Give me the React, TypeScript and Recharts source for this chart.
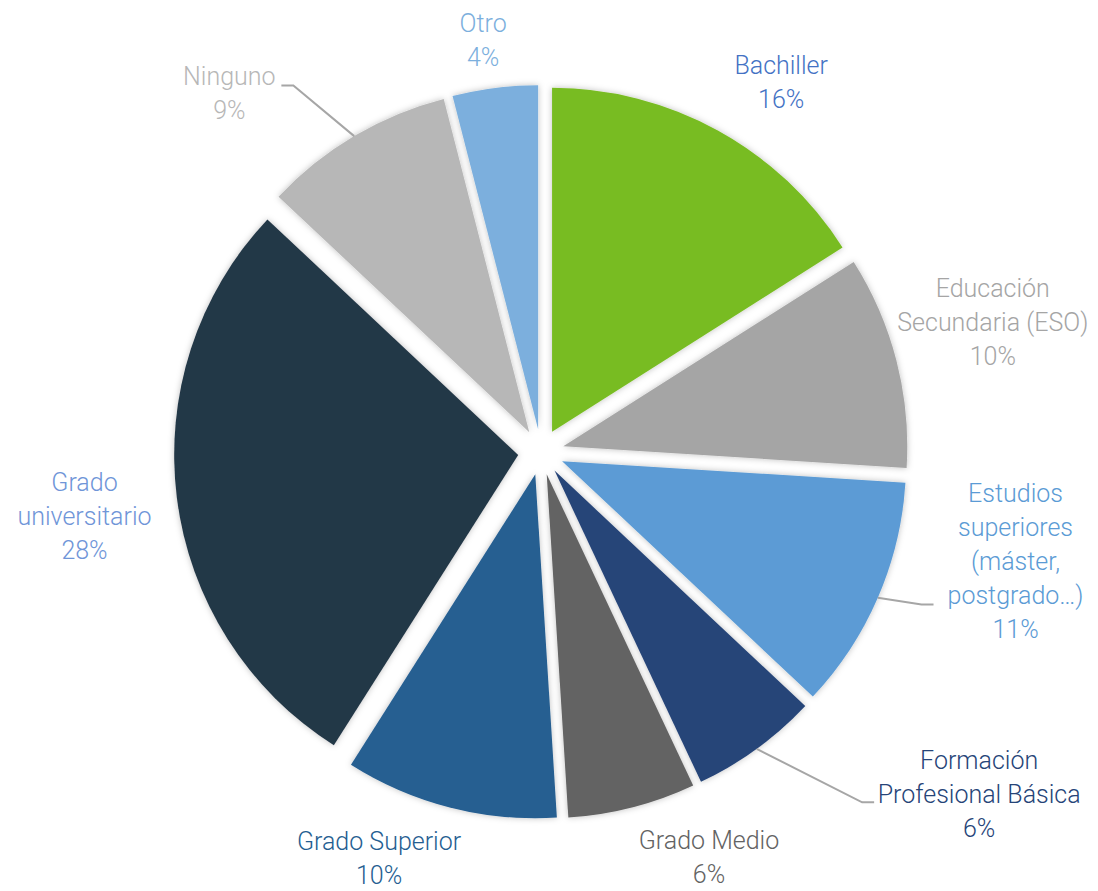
import React from 'react'
import { PieChart, Pie, Cell, Sector } from 'recharts'

const CATEGORIES = [
  'Bachiller',
  'Educación\nSecundaria (ESO)',
  'Estudios\nsuperiores\n(máster,\npostgrado…)',
  'Formación\nProfesional Básica',
  'Grado Medio',
  'Grado Superior',
  'Grado\nuniversitario',
  'Ninguno',
  'Otro',
]

const VALUES = [16, 10, 11, 6, 6, 10, 28, 9, 4]

const SLICE_COLORS = [
  '#78bc21',
  '#a5a5a5',
  '#5b9bd5',
  '#264478',
  '#636363',
  '#255e91',
  '#243746',
  '#b7b7b7',
  '#7cafdd',
]

const LABEL_COLORS = [
  '#4472c4',
  '#a5a5a5',
  '#5b9bd5',
  '#264478',
  '#636363',
  '#255e91',
  '#6f95d8',
  '#b7b7b7',
  '#7cafdd',
]

const data = CATEGORIES.map((name, i) => ({ name, value: VALUES[i] }))

const RADIAN = Math.PI / 180
const EXPLODE = 23
const FONT = 'Roboto, "Open Sans", sans-serif'
const LINE_H = 34

// where each label block sits: compass angle (clockwise from top) and distance from pie centre
const LABEL_LAYOUT = [
  { angle: 33, dist: 441 },
  { angle: 74, dist: 470 },
  { angle: 103, dist: 487 },
  { angle: 128, dist: 556 },
  { angle: 157.5, dist: 439 },
  { angle: 201.7, dist: 438 },
  { angle: 262, dist: 461 },
  { angle: 319, dist: 475 },
  { angle: 352, dist: 416 },
]

// leader lines: end point relative to the label centre, elbow runs 12px towards the slice
const LEADERS: Record<number, { dx: number; dy: number; dir: number }> = {
  2: { dx: -82, dy: 43, dir: -1 },
  3: { dx: -105, dy: 8, dir: -1 },
  7: { dx: 52, dy: -8, dir: 1 },
}

const ExplodedSector = (props: any) => {
  const { cx, cy, midAngle, innerRadius, outerRadius, startAngle, endAngle, fill } = props
  const dx = EXPLODE * Math.cos(-midAngle * RADIAN)
  const dy = EXPLODE * Math.sin(-midAngle * RADIAN)
  return (
    <Sector
      cx={cx + dx}
      cy={cy + dy}
      innerRadius={innerRadius}
      outerRadius={outerRadius}
      startAngle={startAngle}
      endAngle={endAngle}
      fill={fill}
      stroke="none"
      filter="url(#sliceGlow)"
    />
  )
}

const renderLabel = (props: any) => {
  const { cx, cy, midAngle, outerRadius, index, percent } = props
  const lay = LABEL_LAYOUT[index]
  const x = cx + lay.dist * Math.sin(lay.angle * RADIAN)
  const y = cy - lay.dist * Math.cos(lay.angle * RADIAN)
  const pct = percent != null ? Math.round(percent * 100) : VALUES[index]
  const lines = [...CATEGORIES[index].split('\n'), `${pct}%`]
  const top = y - ((lines.length - 1) * LINE_H) / 2
  const leader = LEADERS[index]
  let path = null
  if (leader) {
    const ex = cx + (outerRadius + EXPLODE) * Math.cos(-midAngle * RADIAN)
    const ey = cy + (outerRadius + EXPLODE) * Math.sin(-midAngle * RADIAN)
    const lx = x + leader.dx
    const ly = y + leader.dy
    const bx = lx + leader.dir * 12
    path = (
      <path
        d={`M${ex},${ey}L${bx},${ly}L${lx},${ly}`}
        stroke="#a6a6a6"
        strokeWidth={2}
        fill="none"
      />
    )
  }
  return (
    <g key={`label-${index}`}>
      {path}
      <text
        x={x}
        y={top}
        fill={LABEL_COLORS[index]}
        fontFamily={FONT}
        fontWeight={300}
        fontSize={25}
        textAnchor="middle"
      >
        {lines.map((line, i) => (
          <tspan key={i} x={x} y={top + i * LINE_H} dominantBaseline="central">
            {line}
          </tspan>
        ))}
      </text>
    </g>
  )
}

export default function App() {
  return (
    <div style={{ position: 'absolute', left: 0, top: 0, width: 1098, height: 891, background: '#fff' }}>
      <svg width={0} height={0} style={{ position: 'absolute' }}>
        <defs>
          <filter id="sliceGlow" x="-20%" y="-20%" width="140%" height="140%">
            <feDropShadow dx={0} dy={0} stdDeviation={3} floodColor="#000" floodOpacity={0.25} />
          </filter>
        </defs>
      </svg>
      <PieChart width={1098} height={891} margin={{ top: 0, right: 0, bottom: 0, left: 0 }}>
        <Pie
          data={data}
          dataKey="value"
          nameKey="name"
          cx={541}
          cy={452}
          outerRadius={344}
          startAngle={90}
          endAngle={-270}
          stroke="none"
          shape={ExplodedSector}
          activeShape={ExplodedSector}
          inactiveShape={ExplodedSector}
          label={renderLabel}
          labelLine={false}
          isAnimationActive={false}
        >
          {data.map((_, index) => (
            <Cell key={`cell-${index}`} fill={SLICE_COLORS[index]} />
          ))}
        </Pie>
      </PieChart>
    </div>
  )
}
